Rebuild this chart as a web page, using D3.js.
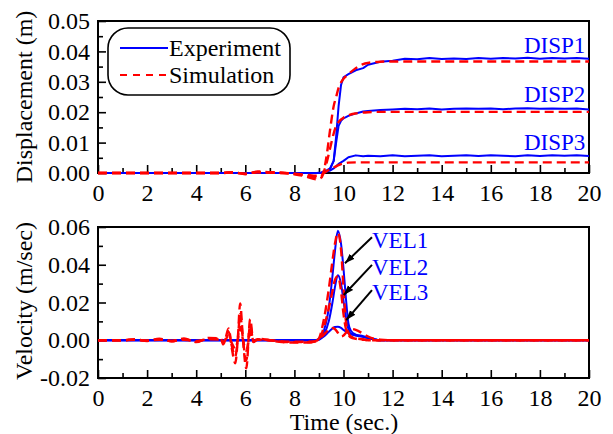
<!DOCTYPE html>
<html>
<head>
<meta charset="utf-8">
<script src="https://cdnjs.cloudflare.com/ajax/libs/d3/7.8.5/d3.min.js"></script>
<style>
  html, body { margin: 0; padding: 0; background: #fff; }
  svg text { font-family: 'Liberation Serif', 'Times New Roman', serif; }
</style>
</head>
<body>
<svg id="chart" width="613" height="434"></svg>
<script>
// ---- data: displacement (m) ----
const tDisp = [0, 1, 2, 3, 4, 5, 5.5, 6, 6.5, 7, 7.5, 8, 8.5, 8.9, 9.1, 9.3, 9.45, 9.6, 9.7, 9.8, 9.9, 10.0,
  10.2, 10.5, 10.8, 11.0, 11.5, 12, 12.5, 13, 13.5, 14, 14.5, 15, 15.5, 16, 16.5, 17, 17.5, 18, 18.5, 19, 19.5, 20];

const disp1Exp = [0, 0, 0, 0, 0, 0, 0, 0, 0, 0, 0, 0, 0, 0, 0.0002, 0.0008, 0.0015, 0.004, 0.012, 0.022, 0.029, 0.0315,
  0.0325, 0.0338, 0.0345, 0.0356, 0.0366, 0.0369, 0.0376, 0.0374, 0.0378, 0.0375, 0.0377, 0.0375, 0.0378, 0.0376, 0.0378, 0.0377, 0.0379, 0.0376, 0.0378, 0.0377, 0.0378, 0.0376];
const disp2Exp = [0, 0, 0, 0, 0, 0, 0, 0, 0, 0, 0, 0, 0, 0, 0.0001, 0.0006, 0.0012, 0.004, 0.010, 0.0155, 0.0172, 0.018,
  0.0188, 0.0196, 0.0202, 0.0204, 0.0207, 0.0209, 0.0211, 0.0210, 0.0212, 0.0209, 0.0211, 0.0212, 0.0211, 0.0212, 0.0210, 0.0212, 0.0213, 0.0211, 0.0212, 0.0211, 0.0212, 0.0209];
const disp3Exp = [0, 0, 0, 0, 0, 0, 0, 0, 0, 0, 0, 0, 0, 0, 0.0001, 0.0004, 0.0008, 0.0015, 0.0022, 0.003, 0.0035, 0.004,
  0.0052, 0.0058, 0.0055, 0.0057, 0.0055, 0.0058, 0.0055, 0.0057, 0.0058, 0.0055, 0.0057, 0.0058, 0.0056, 0.0058, 0.0057, 0.0055, 0.0058, 0.0056, 0.0058, 0.0057, 0.0058, 0.0056];

const disp1Sim = [0, 0, 0, 0, 0, 0, 0.0003, -0.0004, 0.0005, 0.0003, 0.0001, -0.0004, -0.0012, -0.0021, -0.0015, 0.005, 0.014, 0.022, 0.025, 0.028, 0.0298, 0.031,
  0.0325, 0.0345, 0.0358, 0.0362, 0.0366, 0.0367, 0.0367, 0.0367, 0.0367, 0.0367, 0.0367, 0.0367, 0.0367, 0.0367, 0.0367, 0.0367, 0.0367, 0.0367, 0.0367, 0.0367, 0.0367, 0.0367];
const disp2Sim = [0, 0, 0, 0, 0, 0, 0.0002, -0.0003, 0.0003, 0.0002, 0, -0.0003, -0.0009, -0.0015, -0.0010, 0.003, 0.008, 0.013, 0.0155, 0.0168, 0.0176, 0.0182,
  0.019, 0.0196, 0.0199, 0.0200, 0.0201, 0.0201, 0.0201, 0.0201, 0.0201, 0.0201, 0.0201, 0.0201, 0.0201, 0.0201, 0.0201, 0.0201, 0.0201, 0.0201, 0.0201, 0.0201, 0.0201, 0.0201];
const disp3Sim = [0, 0, 0, 0, 0, 0, 0.0001, -0.0002, 0.0002, 0.0001, 0, -0.0002, -0.0006, -0.0009, -0.0006, 0.0005, 0.0012, 0.0018, 0.0022, 0.0026, 0.0029, 0.0031,
  0.0034, 0.0035, 0.0035, 0.0035, 0.0035, 0.0035, 0.0035, 0.0035, 0.0035, 0.0035, 0.0035, 0.0035, 0.0035, 0.0035, 0.0035, 0.0035, 0.0035, 0.0035, 0.0035, 0.0035, 0.0035, 0.0035];

// ---- data: velocity (m/sec) ----
const tVel = [0, 1, 1.5, 2, 2.5, 3, 3.5, 4, 4.5, 5, 5.1, 5.2, 5.32, 5.45, 5.59, 5.7, 5.79, 5.9, 6.04, 6.2,
  6.33, 6.5, 7, 7.5, 8, 8.5, 8.8, 9.0, 9.2, 9.4, 9.55, 9.65, 9.77, 9.9, 10.0, 10.1, 10.2, 10.3, 10.5, 10.8,
  11.0, 11.5, 12, 14, 16, 18, 20];

const vel1Exp = [0, 0, 0, 0, 0, 0, 0, 0, 0, 0, 0, 0, 0, 0, 0, 0, 0, 0, 0, 0,
  0, 0, 0, 0, 0, 0, 0, 0.0005, 0.005, 0.017, 0.034, 0.047, 0.058, 0.051, 0.038, 0.022, 0.009, 0.005, 0.003, 0.0022,
  0.0015, 0, 0, 0, 0, 0, 0];
const vel2Exp = [0, 0, 0, 0, 0, 0, 0, 0, 0, 0, 0, 0, 0, 0, 0, 0, 0, 0, 0, 0,
  0, 0, 0, 0, 0, 0, 0, 0.0003, 0.003, 0.010, 0.020, 0.028, 0.0345, 0.030, 0.021, 0.012, 0.006, 0.0035, 0.0025, 0.0018,
  0.0012, 0, 0, 0, 0, 0, 0];
const vel3Exp = [0, 0, 0, 0, 0, 0, 0, 0, 0, 0, 0, 0, 0, 0, 0, 0, 0, 0, 0, 0,
  0, 0, 0, 0, 0, 0, 0, 0.0005, 0.002, 0.0045, 0.0062, 0.007, 0.0071, 0.0065, 0.0055, 0.0045, 0.0038, 0.0033, 0.0027, 0.0018,
  0.0012, 0, 0, 0, 0, 0, 0];

const vel1Sim = [0, 0, 0.0006, -0.0004, 0.0008, -0.0006, 0.0009, -0.0010, 0.0012, 0.0010, -0.0022, 0.0012, 0.0062, -0.0042, -0.0122, 0.0020, 0.0195, 0.0015, -0.0149, 0.0112,
  -0.0010, 0.0008, 0, -0.0010, -0.0012, -0.0012, -0.0010, 0.0010, 0.011, 0.027, 0.042, 0.051, 0.057, 0.048, 0.028, 0.010, 0.004, 0.002, 0.001, 0.0005,
  0, 0, 0, 0, 0, 0, 0];
const vel2Sim = [0, 0, 0.0004, -0.0003, 0.0006, -0.0005, 0.0006, -0.0008, 0.0009, 0.0008, -0.0015, 0.0008, 0.0045, -0.0030, -0.0085, 0.0012, 0.0140, 0.0010, -0.0105, 0.0080,
  -0.0008, 0.0005, 0, -0.0008, -0.0010, -0.0010, -0.0008, 0.0005, 0.007, 0.017, 0.026, 0.032, 0.034, 0.026, 0.014, 0.006, 0.003, 0.0015, 0.0008, 0.0003,
  0, 0, 0, 0, 0, 0, 0];
const vel3Sim = [0, 0, 0.0002, -0.0002, 0.0003, -0.0003, 0.0003, -0.0004, 0.0005, 0.0004, -0.0008, 0.0004, 0.0025, -0.0015, -0.0045, 0.0006, 0.0070, 0.0005, -0.0055, 0.0040,
  -0.0005, 0.0003, 0, -0.0006, -0.0008, -0.0008, -0.0006, 0.0005, 0.003, 0.0055, 0.0065, 0.006, 0.004, 0.002, 0.0025, 0.004, 0.0055, 0.006, 0.0055, 0.0035,
  0.002, 0.0003, 0, 0, 0, 0, 0];

// ---- ticks ----
const xTicks = [0, 2, 4, 6, 8, 10, 12, 14, 16, 18, 20];
const xMinor = [1, 3, 5, 7, 9, 11, 13, 15, 17, 19];
const dispTicks = [0, 0.01, 0.02, 0.03, 0.04, 0.05];
const dispMinor = [0.005, 0.015, 0.025, 0.035, 0.045];
const velTicks = [-0.02, 0, 0.02, 0.04, 0.06];
const velMinor = [-0.01, 0.01, 0.03, 0.05];

// ---- annotations (data units) ----
const dispLabels = [
  { text: 'DISP1', t: 19.85, v: 0.0395 },
  { text: 'DISP2', t: 19.85, v: 0.0234 },
  { text: 'DISP3', t: 19.85, v: 0.0076 },
];
const velLabels = [
  { text: 'VEL1', t: 11.16, v: 0.0488, from: [11.16, 0.0546], to: [10.06, 0.0408] },
  { text: 'VEL2', t: 11.16, v: 0.0346, from: [11.16, 0.0399], to: [10.01, 0.0240] },
  { text: 'VEL3', t: 11.16, v: 0.0213, from: [11.16, 0.0266], to: [10.11, 0.0107] },
];

const BLUE = '#0000ff';
const RED = '#ff0000';
const FONT = 24;     // ticks, titles, legend
const LABEL = 23;    // DISP / VEL annotations

const svg = d3.select('#chart');
const defs = svg.append('defs');
defs.append('marker')
  .attr('id', 'arrow')
  .attr('viewBox', '0 0 10 10')
  .attr('refX', 10).attr('refY', 5)
  .attr('markerWidth', 10).attr('markerHeight', 10)
  .attr('markerUnits', 'userSpaceOnUse')
  .attr('orient', 'auto')
  .append('path')
  .attr('d', 'M0,1.5 L10,5 L0,8.5 Z')
  .attr('fill', '#000');

const plotLeft = 98, plotRight = 589;
const x = d3.scaleLinear().domain([0, 20]).range([plotLeft, plotRight]);

function fmt(d) { return d.toFixed(2); }

function panel(y0, y1, yDomain, yTicks, yMinor) {
  const y = d3.scaleLinear().domain(yDomain).range([y1, y0]);
  const g = svg.append('g');

  // x axis (ticks inward)
  g.append('g').attr('transform', `translate(0,${y1})`)
    .call(d3.axisBottom(x).tickValues(xTicks).tickSizeInner(-8).tickSizeOuter(0).tickPadding(11).tickFormat(d3.format('d')));
  g.append('g').attr('transform', `translate(0,${y1})`)
    .call(d3.axisBottom(x).tickValues(xMinor).tickSizeInner(-5).tickSizeOuter(0).tickFormat(''));

  g.append('g').attr('transform', `translate(${plotLeft},0)`)
    .call(d3.axisLeft(y).tickValues(yTicks).tickSizeInner(-8).tickSizeOuter(0).tickPadding(8).tickFormat(fmt));
  g.append('g').attr('transform', `translate(${plotLeft},0)`)
    .call(d3.axisLeft(y).tickValues(yMinor).tickSizeInner(-5).tickSizeOuter(0).tickFormat(''));

  g.selectAll('.domain').remove();
  g.selectAll('.tick line').attr('stroke', '#000').attr('stroke-width', 1.6);
  g.selectAll('.tick text').attr('font-size', FONT).attr('font-family', "'Liberation Serif', serif").attr('fill', '#000');

  // frame
  g.append('rect')
    .attr('x', plotLeft).attr('y', y0)
    .attr('width', plotRight - plotLeft).attr('height', y1 - y0)
    .attr('fill', 'none').attr('stroke', '#000').attr('stroke-width', 2);

  return { g, y };
}

function drawSeries(g, y, t, vals, color, dashed, curve) {
  const line = d3.line()
    .x((d, i) => x(t[i]))
    .y(d => y(d))
    .curve(curve);
  g.append('path')
    .datum(vals)
    .attr('d', line)
    .attr('fill', 'none')
    .attr('stroke', color)
    .attr('stroke-width', dashed ? 2.4 : 2)
    .attr('stroke-dasharray', dashed ? '9,5' : null)
    .attr('stroke-linejoin', 'round');
}

// ---- top panel: displacement ----
const dispPanel = panel(21, 173, [0, 0.05], dispTicks, dispMinor);
[disp1Exp, disp2Exp, disp3Exp].forEach(s => drawSeries(dispPanel.g, dispPanel.y, tDisp, s, BLUE, false, d3.curveLinear));
[disp1Sim, disp2Sim, disp3Sim].forEach(s => drawSeries(dispPanel.g, dispPanel.y, tDisp, s, RED, true, d3.curveMonotoneX));

dispLabels.forEach(l => {
  dispPanel.g.append('text')
    .attr('x', x(l.t)).attr('y', dispPanel.y(l.v))
    .attr('text-anchor', 'end')
    .attr('font-size', LABEL)
    .attr('fill', BLUE)
    .text(l.text);
});

// legend
const lg = dispPanel.g.append('g');
lg.append('rect')
  .attr('x', 108).attr('y', 28).attr('width', 182).attr('height', 67)
  .attr('rx', 20).attr('ry', 20)
  .attr('fill', '#fff').attr('stroke', '#000').attr('stroke-width', 1.6);
lg.append('line').attr('x1', 120).attr('x2', 168).attr('y1', 48).attr('y2', 48)
  .attr('stroke', BLUE).attr('stroke-width', 2);
lg.append('line').attr('x1', 120).attr('x2', 168).attr('y1', 75).attr('y2', 75)
  .attr('stroke', RED).attr('stroke-width', 2).attr('stroke-dasharray', '7,6');
lg.append('text').attr('x', 169).attr('y', 56).attr('font-size', FONT).text('Experiment');
lg.append('text').attr('x', 169).attr('y', 83).attr('font-size', FONT).text('Simulation');

// ---- bottom panel: velocity ----
const velPanel = panel(227, 378, [-0.02, 0.06], velTicks, velMinor);
[vel1Exp, vel2Exp, vel3Exp].forEach(s => drawSeries(velPanel.g, velPanel.y, tVel, s, BLUE, false, d3.curveMonotoneX));
[vel1Sim, vel2Sim, vel3Sim].forEach(s => drawSeries(velPanel.g, velPanel.y, tVel, s, RED, true, d3.curveMonotoneX));

velLabels.forEach(l => {
  velPanel.g.append('line')
    .attr('x1', x(l.from[0])).attr('y1', velPanel.y(l.from[1]))
    .attr('x2', x(l.to[0])).attr('y2', velPanel.y(l.to[1]))
    .attr('stroke', '#000').attr('stroke-width', 2)
    .attr('marker-end', 'url(#arrow)');
  velPanel.g.append('text')
    .attr('x', x(l.t)).attr('y', velPanel.y(l.v))
    .attr('font-size', LABEL)
    .attr('fill', BLUE)
    .text(l.text);
});

// ---- axis titles ----
svg.append('text')
  .attr('transform', 'translate(32,97) rotate(-90)')
  .attr('text-anchor', 'middle')
  .attr('font-size', FONT)
  .text('Displacement (m)');
svg.append('text')
  .attr('transform', 'translate(32,301) rotate(-90)')
  .attr('text-anchor', 'middle')
  .attr('font-size', FONT)
  .text('Velocity (m/sec)');
svg.append('text')
  .attr('x', 344).attr('y', 430)
  .attr('text-anchor', 'middle')
  .attr('font-size', FONT)
  .text('Time (sec.)');
</script>
</body>
</html>
